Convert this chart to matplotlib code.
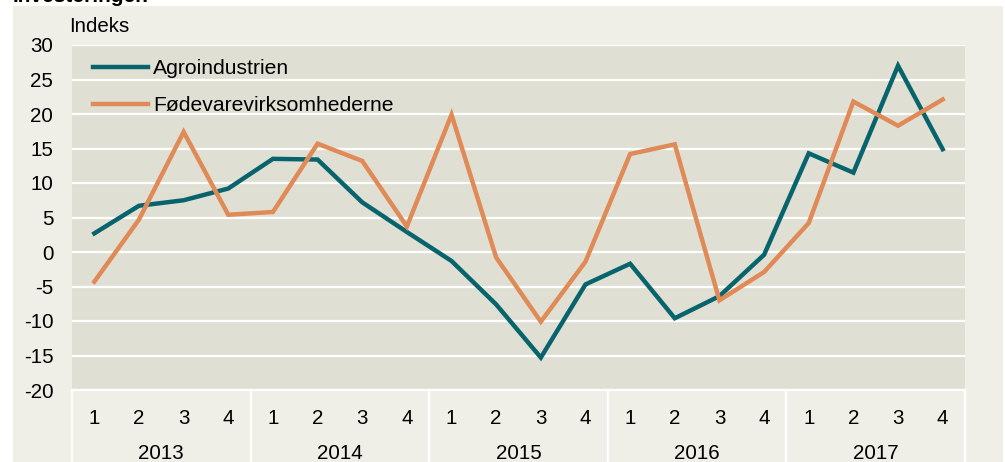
import matplotlib
matplotlib.use("Agg")
import matplotlib.pyplot as plt
import matplotlib.transforms as mtransforms
from matplotlib.patches import Rectangle

# --------------------------------
# Data
# --------------------------------
years = ["2013", "2014", "2015", "2016", "2017"]
quarters = ["1", "2", "3", "4"]

agro = [2.7, 6.7, 7.5, 9.2, 13.5, 13.4, 7.2, 2.9,
        -1.3, -7.6, -15.3, -4.7, -1.7, -9.6, -6.4, -0.4,
        14.3, 11.5, 27.0, 14.9]
foede = [-4.3, 4.7, 17.4, 5.4, 5.8, 15.7, 13.2, 3.7,
         19.9, -0.8, -10.1, -1.4, 14.2, 15.6, -7.0, -2.9,
         4.2, 21.8, 18.3, 22.1]

series_names = ["Agroindustrien", "Fødevarevirksomhederne"]
yticks = [-20, -15, -10, -5, 0, 5, 10, 15, 20, 25, 30]

# --------------------------------
# Style
# --------------------------------
TEAL = "#07646C"
ORANGE = "#DF8A57"
PLOT_BG = "#E0DFD3"
OUTER_BG = "#EFEEE7"
FS = 14.8

plt.rcParams["font.family"] = ["Liberation Sans", "DejaVu Sans"]

W, H = 1005, 462
fig = plt.figure(figsize=(W / 100, H / 100), dpi=100, facecolor="white")

# light beige panel behind the chart
bg = Rectangle((13 / W, 0), (1003 - 13) / W, (H - 6) / H,
               transform=fig.transFigure, facecolor=OUTER_BG,
               edgecolor="none", zorder=-5)
fig.add_artist(bg)

# title, cut off at the top edge
fig.text(13 / W, 1 - 2 / H, "Investeringer.", fontsize=15, fontweight="bold",
         ha="left", va="baseline")

ax = fig.add_axes([72 / W, (H - 390) / H, 893 / W, 345 / H])
ax.set_zorder(2)
ax.set_facecolor(PLOT_BG)

x = list(range(len(years) * len(quarters)))
ax.plot(x, agro, color=TEAL, lw=3.2, solid_joinstyle="miter", label=series_names[0], zorder=3)
ax.plot(x, foede, color=ORANGE, lw=3.2, solid_joinstyle="miter", label=series_names[1], zorder=3)

ax.set_xlim(-0.5, len(x) - 0.5)
ax.set_ylim(-20, 30)
ax.set_yticks(yticks)
ax.set_yticklabels([str(v) for v in yticks], fontsize=FS)
ax.tick_params(axis="y", length=0, pad=13.5)
ax.set_xticks([])
ax.grid(axis="y", color="white", lw=1.6)
ax.set_axisbelow(True)
for s in ax.spines.values():
    s.set_visible(False)

# x-axis category labels (quarters + years) with white separators
trans = mtransforms.blended_transform_factory(ax.transData, ax.transAxes)
for i, xi in enumerate(x):
    ax.text(xi, -34 / 345, quarters[i % 4], transform=trans, fontsize=FS,
            ha="center", va="baseline")
for j, yr in enumerate(years):
    ax.text(j * 4 + 1.5, -69 / 345, yr, transform=trans, fontsize=FS,
            ha="center", va="baseline")
for j in range(len(years) + 1):
    ax.plot([j * 4 - 0.5] * 2, [0, -0.3], transform=trans, color="white",
            lw=1.6, clip_on=False)
ax.plot([-0.5, len(x) - 0.5], [0, 0], transform=trans, color="white", lw=1.6,
        clip_on=False)

fig.text(69 / W, 1 - 27 / H, "Indeks", fontsize=FS, ha="left", va="center")

leg = ax.legend(loc="upper left", bbox_to_anchor=(21 / 893, 1 - 14 / 345),
                frameon=False, fontsize=15.2, handlelength=2.6, handletextpad=0.25,
                labelspacing=0.86, borderpad=0, borderaxespad=0)

fig.savefig("out.png", dpi=100, facecolor="white")
